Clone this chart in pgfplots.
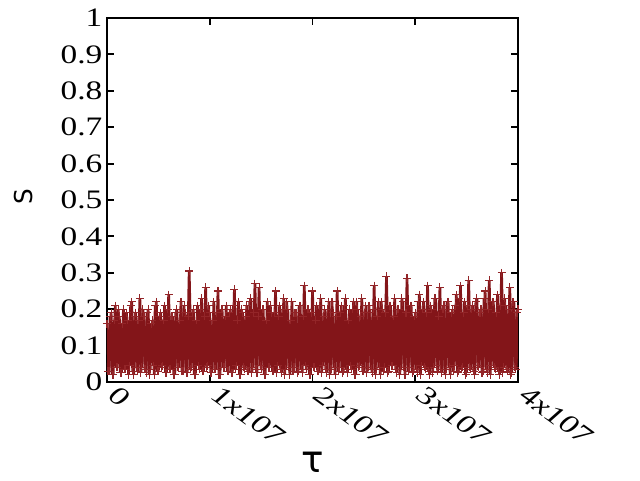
\documentclass[border=0pt]{standalone}
\usepackage{pgfplots}
\usepackage{pgfplotstable}
\pgfplotsset{compat=1.18}
\usepackage{fontspec}
\setmainfont[FakeStretch=1.25]{Liberation Serif}
\newfontfamily\sansf{DejaVu Sans}
\definecolor{bandred}{HTML}{831519}
\definecolor{markred}{HTML}{932528}
\pgfplotstableread{
x y z
0.00 0.16 0.03
0.02 0.03 0.18
0.04 0.19 0.02
0.06 0.02 0.17
0.08 0.21 0.04
0.10 0.04 0.20
0.12 0.18 0.025
0.14 0.025 0.16
0.16 0.20 0.035
0.18 0.035 0.19
0.20 0.17 0.02
0.22 0.045 0.21
0.24 0.22 0.03
0.26 0.02 0.18
0.28 0.19 0.04
0.30 0.03 0.17
0.32 0.23 0.025
0.34 0.04 0.20
0.36 0.18 0.035
0.38 0.025 0.19
0.40 0.20 0.02
0.42 0.035 0.16
0.44 0.17 0.045
0.46 0.02 0.21
0.48 0.22 0.03
0.50 0.03 0.18
0.52 0.19 0.04
0.54 0.045 0.17
0.56 0.21 0.025
0.58 0.025 0.20
0.60 0.24 0.035
0.62 0.035 0.18
0.64 0.18 0.02
0.66 0.02 0.19
0.68 0.20 0.04
0.70 0.04 0.17
0.72 0.22 0.03
0.74 0.03 0.21
0.76 0.19 0.025
0.78 0.025 0.18
0.80 0.305 0.035
0.82 0.04 0.19
0.84 0.20 0.02
0.86 0.02 0.17
0.88 0.21 0.045
0.90 0.035 0.20
0.92 0.23 0.03
0.94 0.03 0.18
0.96 0.26 0.04
0.98 0.045 0.21
1.00 0.19 0.025
1.02 0.025 0.17
1.04 0.22 0.035
1.06 0.035 0.19
1.08 0.25 0.02
1.10 0.02 0.20
1.12 0.20 0.04
1.14 0.04 0.18
1.16 0.21 0.03
1.18 0.03 0.19
1.20 0.20 0.025
1.22 0.025 0.21
1.24 0.255 0.035
1.26 0.045 0.17
1.28 0.22 0.02
1.30 0.02 0.20
1.32 0.19 0.04
1.34 0.035 0.18
1.36 0.21 0.03
1.38 0.03 0.22
1.40 0.23 0.025
1.42 0.04 0.19
1.44 0.27 0.035
1.46 0.025 0.18
1.48 0.26 0.045
1.50 0.035 0.20
1.52 0.20 0.02
1.54 0.02 0.17
1.56 0.22 0.04
1.58 0.04 0.21
1.60 0.19 0.03
1.62 0.03 0.19
1.64 0.25 0.025
1.66 0.045 0.18
1.68 0.21 0.035
1.70 0.025 0.20
1.72 0.23 0.02
1.74 0.035 0.22
1.76 0.20 0.04
1.78 0.02 0.17
1.80 0.22 0.03
1.82 0.04 0.19
1.84 0.19 0.025
1.86 0.03 0.21
1.88 0.21 0.035
1.90 0.025 0.18
1.92 0.265 0.045
1.94 0.035 0.20
1.96 0.20 0.02
1.98 0.02 0.19
2.00 0.25 0.04
2.02 0.04 0.17
2.04 0.21 0.03
2.06 0.03 0.21
2.08 0.23 0.025
2.10 0.045 0.18
2.12 0.20 0.035
2.14 0.025 0.20
2.16 0.22 0.02
2.18 0.035 0.22
2.20 0.19 0.04
2.22 0.02 0.18
2.24 0.25 0.03
2.26 0.04 0.19
2.28 0.21 0.025
2.30 0.03 0.21
2.32 0.23 0.035
2.34 0.025 0.17
2.36 0.20 0.045
2.38 0.035 0.20
2.40 0.22 0.02
2.42 0.02 0.22
2.44 0.20 0.04
2.46 0.045 0.18
2.48 0.23 0.03
2.50 0.03 0.19
2.52 0.21 0.025
2.54 0.04 0.21
2.56 0.19 0.035
2.58 0.025 0.20
2.60 0.265 0.02
2.62 0.035 0.18
2.64 0.22 0.04
2.66 0.02 0.22
2.68 0.20 0.03
2.70 0.04 0.19
2.72 0.29 0.025
2.74 0.03 0.21
2.76 0.21 0.045
2.78 0.045 0.18
2.80 0.23 0.035
2.82 0.025 0.20
2.84 0.20 0.02
2.86 0.035 0.23
2.88 0.22 0.04
2.90 0.02 0.19
2.92 0.285 0.03
2.94 0.04 0.21
2.96 0.21 0.025
2.98 0.03 0.18
3.00 0.19 0.035
3.02 0.025 0.22
3.04 0.24 0.02
3.06 0.045 0.20
3.08 0.22 0.04
3.10 0.035 0.19
3.12 0.265 0.03
3.14 0.02 0.21
3.16 0.20 0.025
3.18 0.04 0.23
3.20 0.23 0.045
3.22 0.03 0.18
3.24 0.26 0.035
3.26 0.025 0.20
3.28 0.21 0.02
3.30 0.035 0.22
3.32 0.22 0.04
3.34 0.02 0.19
3.36 0.20 0.03
3.38 0.045 0.21
3.40 0.24 0.025
3.42 0.03 0.23
3.44 0.265 0.035
3.46 0.04 0.19
3.48 0.22 0.02
3.50 0.025 0.21
3.52 0.28 0.04
3.54 0.035 0.20
3.56 0.21 0.03
3.58 0.02 0.22
3.60 0.23 0.045
3.62 0.04 0.19
3.64 0.20 0.025
3.66 0.03 0.23
3.68 0.25 0.035
3.70 0.025 0.20
3.72 0.28 0.02
3.74 0.045 0.22
3.76 0.22 0.04
3.78 0.035 0.19
3.80 0.24 0.03
3.82 0.02 0.21
3.84 0.30 0.025
3.86 0.04 0.23
3.88 0.21 0.035
3.90 0.03 0.20
3.92 0.26 0.02
3.94 0.025 0.22
3.96 0.22 0.04
3.98 0.035 0.19
4.00 0.20 0.03
}\datatable
\begin{document}
\begin{tikzpicture}
\begin{axis}[
  scale only axis,
  width=308.25pt, height=273pt,
  xmin=0, xmax=4, ymin=0, ymax=1,
  axis line style={line width=2pt},
  every tick/.style={black, line width=1.4pt},
  major tick length=5.5pt,
  tick align=inside,
  xtick={0,1,2,3,4},
  xticklabels={0,1x107,2x107,3x107,4x107},
  ytick={0,0.1,0.2,0.3,0.4,0.5,0.6,0.7,0.8,0.9,1},
  yticklabels={0,0.1,0.2,0.3,0.4,0.5,0.6,0.7,0.8,0.9,1},
  tick label style={font=\fontsize{20}{22}\selectfont},
  x tick label style={rotate=-36, anchor=north west, font=\fontsize{20}{22}\selectfont\itshape, xshift=4pt, yshift=7pt},
  xlabel={\sansf τ},
  ylabel={\sansf S},
  xlabel style={font=\fontsize{28}{30}\selectfont, at={(axis description cs:0.5,-0.18)}, anchor=north},
  ylabel style={font=\fontsize{18.5}{20}\selectfont, at={(axis description cs:-0.169,0.51)}, anchor=south},
  clip=true,
]
\addplot[color=bandred, line width=2pt, mark=+, mark size=3pt, mark options={color=markred, line width=0.8pt}] table[x=x, y=y] {\datatable};
\addplot[color=bandred, line width=2pt, mark=+, mark size=3pt, mark options={color=markred, line width=0.8pt}] table[x expr=\thisrow{x}+0.01, y=z] {\datatable};
\end{axis}
\path (current axis.south west) ++(-80.25pt,-73.5pt) rectangle ++(480pt,360pt);
\end{tikzpicture}
\end{document}
